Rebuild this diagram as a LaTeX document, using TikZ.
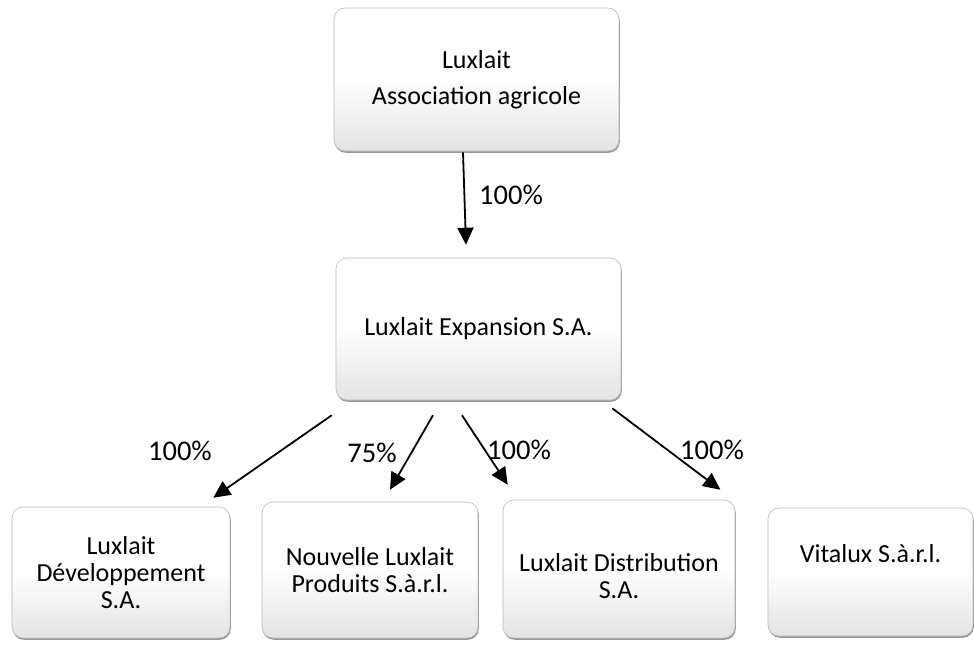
\documentclass[tikz,border=0pt]{standalone}
\usepackage{fontspec}
\setmainfont{Carlito}
\usetikzlibrary{arrows.meta,shadows}
\begin{document}
\begin{tikzpicture}[x=1pt,y=-1pt,
  orgbox/.style={draw=gray!55, line width=0.6pt, rounded corners=11pt,
    top color=white, bottom color=gray!22, middle color=white,
    align=center, inner sep=0pt, font=\fontsize{26}{27}\selectfont,
    drop shadow={shadow xshift=0.8pt, shadow yshift=-1.8pt, fill=gray!80, opacity=1}},
  pct/.style={font=\fontsize{28.5}{30}\selectfont, inner sep=0pt},
  arr/.style={line width=1.8pt, -{Triangle[length=17pt,width=16pt]}}]
\useasboundingbox (0,0) rectangle (974,648);

\node[orgbox, minimum width=285pt, minimum height=143pt, font=\fontsize{26}{36}\selectfont] (top) at (476.5,79.5) {Luxlait\\Association agricole};
\node[orgbox, minimum width=285pt, minimum height=142pt] (mid) at (478.5,329) {Luxlait Expansion S.A.};

\node[orgbox, minimum width=218pt, minimum height=131pt] (b1) at (121,572.5) {Luxlait\\Développement\\S.A.};
\node[orgbox, minimum width=216pt, minimum height=136pt] (b2) at (370,570) {Nouvelle Luxlait\\Produits S.à.r.l.};
\node[orgbox, minimum width=232pt, minimum height=138pt, text height=58.5pt, text depth=0pt] (b3) at (619,569) {Luxlait Distribution\\S.A.};
\node[orgbox, minimum width=205pt, minimum height=128pt, text depth=38pt] (b4) at (870.5,572) {Vitalux S.à.r.l.};

\draw[arr] ([xshift=-13.5pt,yshift=-1pt]top.south) -- ([xshift=-12.5pt,yshift=13pt]mid.north);
\draw[arr] ([xshift=-4pt,yshift=-15pt]mid.south west) -- ([xshift=-17pt,yshift=9pt]b1.north east);
\draw[arr] ([xshift=-45.5pt,yshift=-15pt]mid.south) -- ([xshift=20pt,yshift=12pt]b2.north);
\draw[arr] ([xshift=-16.5pt,yshift=-15pt]mid.south) -- ([xshift=5pt,yshift=15pt]b3.north west);
\draw[arr] ([xshift=-9pt,yshift=-8pt]mid.south east) -- ([xshift=-15pt,yshift=10pt]b3.north east);

\node[pct] (p0) at (511,195) {100\%};
\node[pct] (p1) at (180,451) {100\%};
\node[pct] (p2) at (372,453) {75\%};
\node[pct] (p3) at (519,450) {100\%};
\node[pct] (p4) at (712,450) {100\%};
\end{tikzpicture}
\end{document}
